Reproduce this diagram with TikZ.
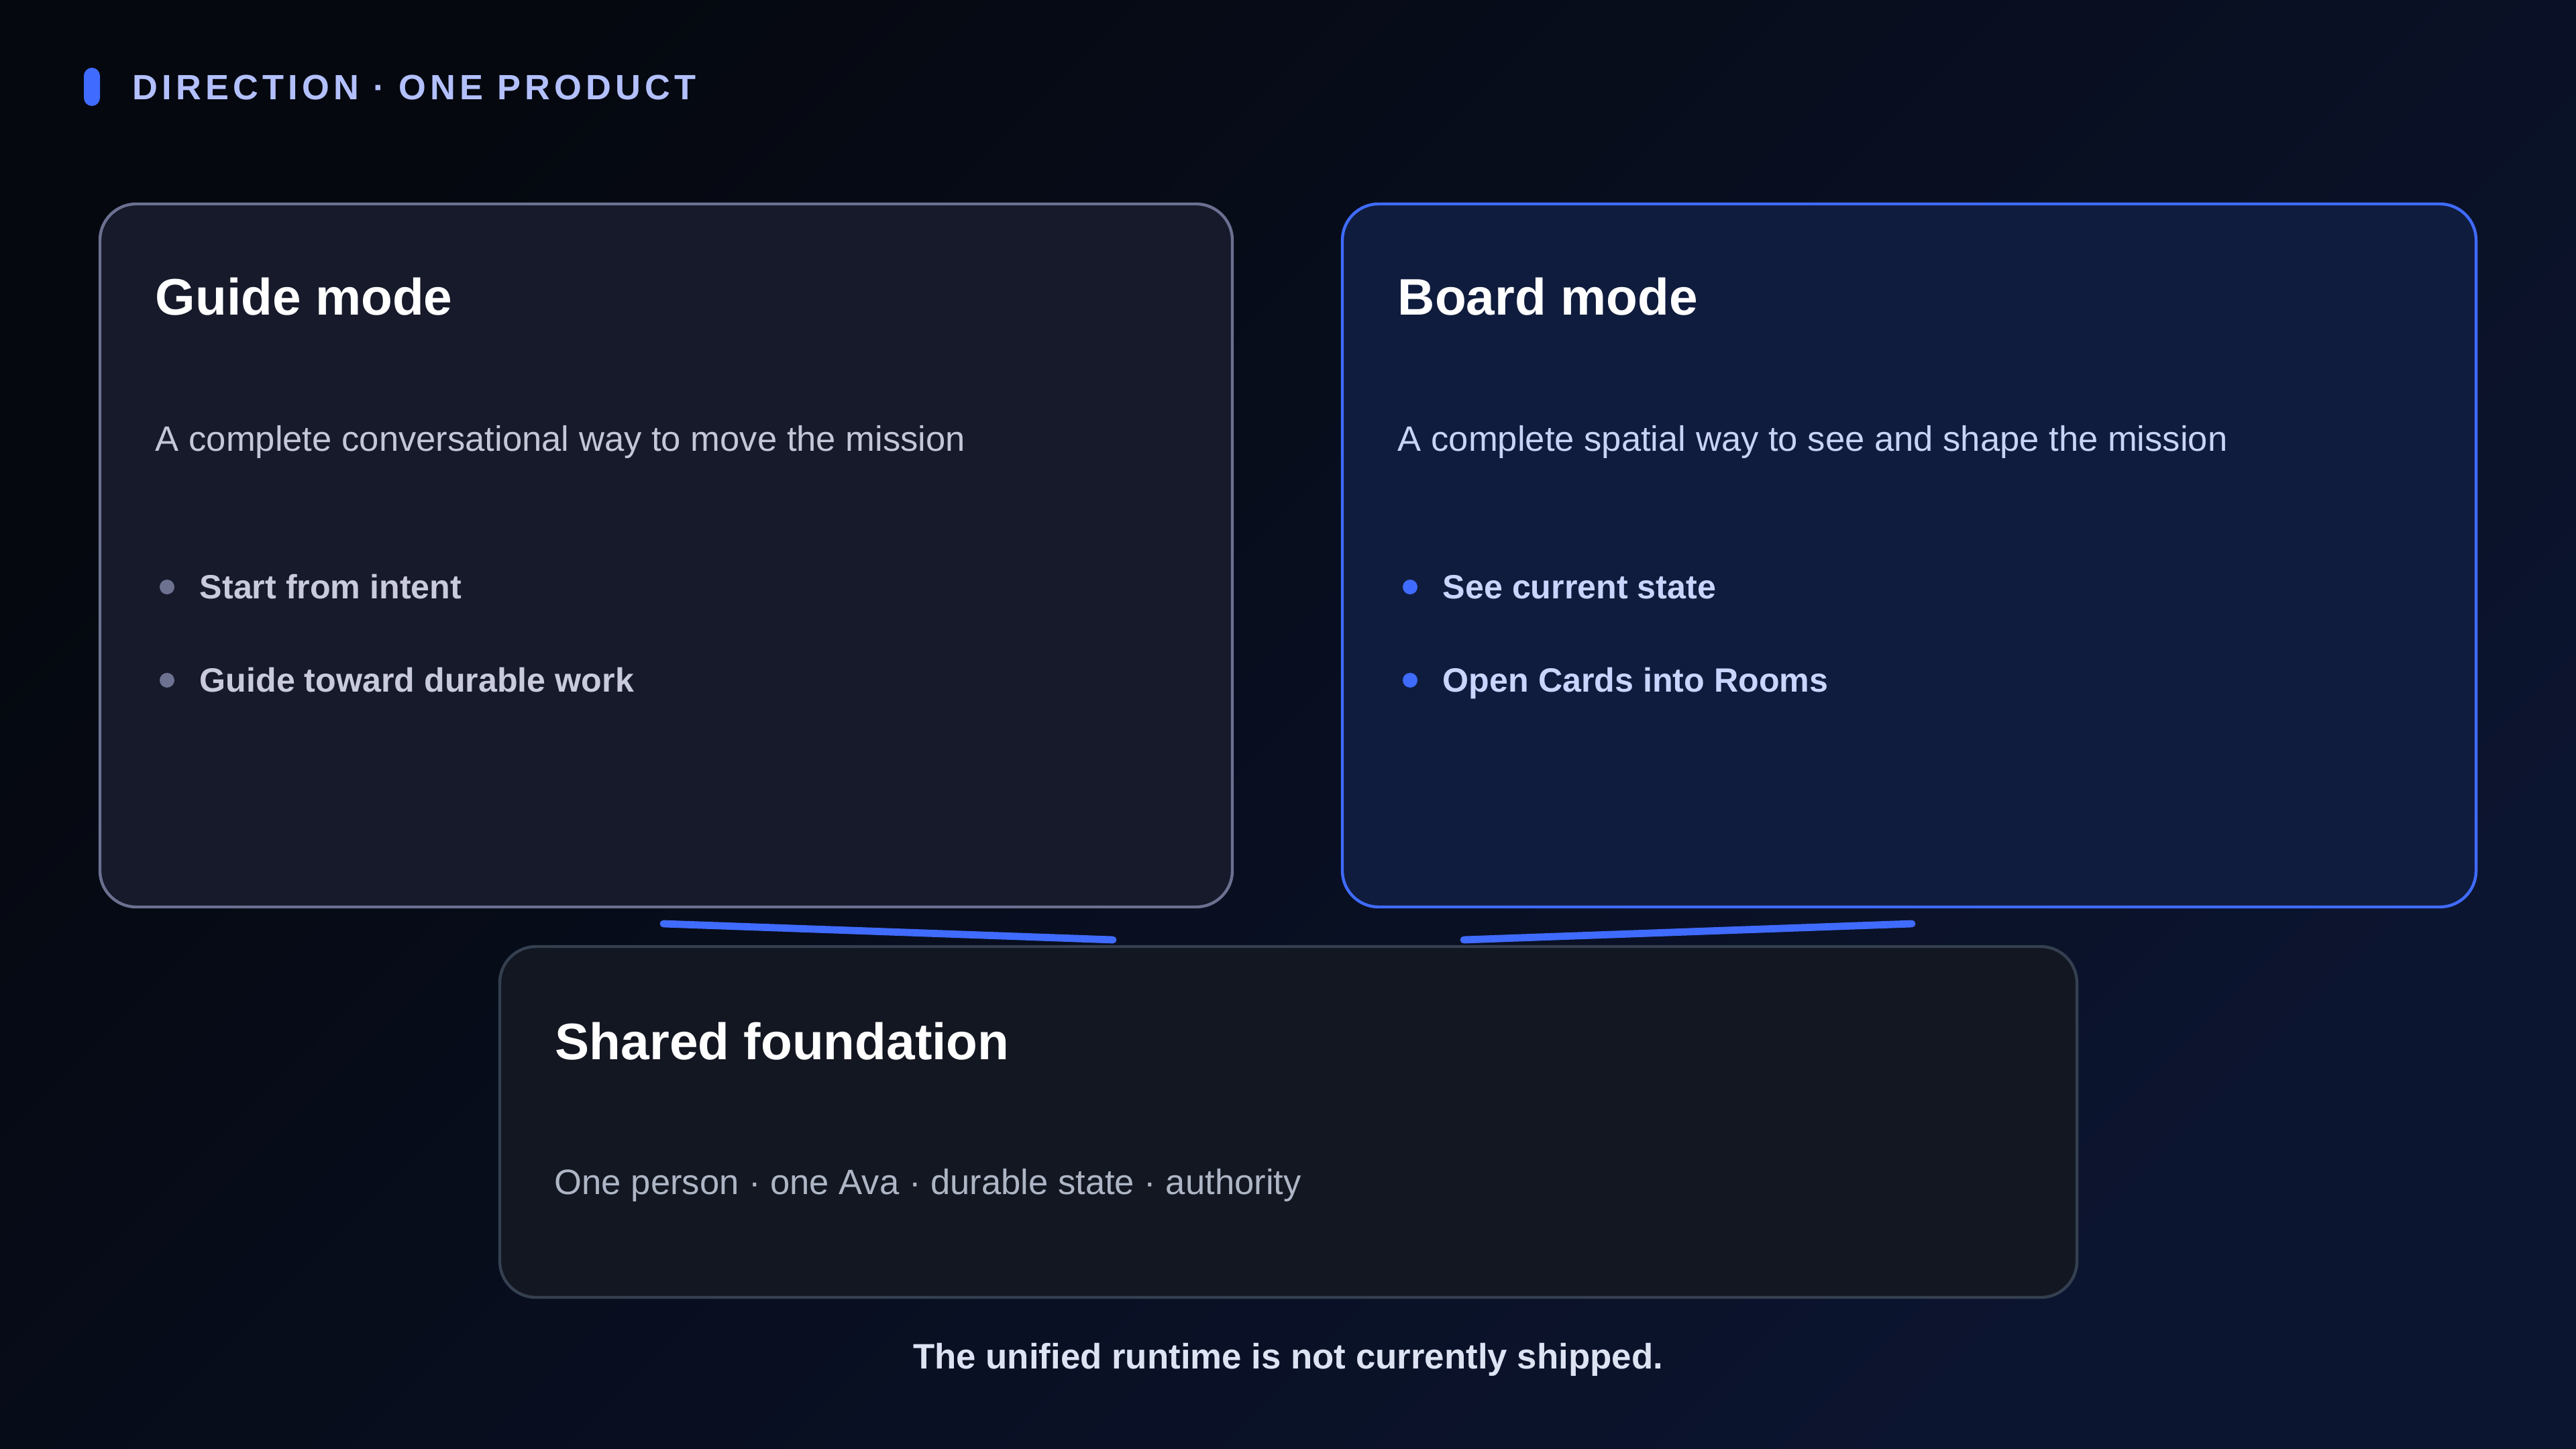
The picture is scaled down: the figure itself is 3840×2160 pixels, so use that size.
\documentclass[tikz,border=0pt]{standalone}
\usepackage{fontspec}
\setmainfont{Liberation Sans}
\newfontfamily\trackfont{Liberation Sans}[LetterSpace=11.8]
\usetikzlibrary{calc}
\definecolor{bgA}{HTML}{05080F}
\definecolor{bgB}{HTML}{0C1530}
\definecolor{accent}{HTML}{3F6BFF}
\definecolor{headtxt}{HTML}{B3C0FF}
\definecolor{guidefill}{HTML}{161A2B}
\definecolor{guideline}{HTML}{6C7090}
\definecolor{boardfill}{HTML}{0F1C3D}
\definecolor{sharedfill}{HTML}{131722}
\definecolor{sharedline}{HTML}{344050}
\definecolor{guidesub}{HTML}{C3C7D6}
\definecolor{boardsub}{HTML}{C8D3F5}
\definecolor{sharedsub}{HTML}{AEB6C6}
\definecolor{guidebul}{HTML}{C9CBDC}
\definecolor{guidedot}{HTML}{6E7291}
\definecolor{boardbul}{HTML}{C9D5FF}
\definecolor{foottxt}{HTML}{DDE3F2}
\begin{document}
\begin{tikzpicture}[x=0.25pt,y=-0.25pt,
  card/.style={rounded corners=13.5pt, line width=1.1pt, inner sep=0, outer sep=0},
  title/.style={font=\fontsize{19.15}{23}\selectfont\bfseries, text=white, inner sep=0, anchor=base west},
  sub/.style={font=\fontsize{13.15}{16}\selectfont, inner sep=0, anchor=base west},
  bul/.style={font=\fontsize{12.55}{15}\selectfont\bfseries, inner sep=0, anchor=base west},
  bdot/.style={circle, inner sep=0, minimum size=5.5pt},
  link/.style={draw=accent, line width=2.7pt, line cap=round}]
\useasboundingbox (0,0) rectangle (3840,2160);
\shade[top color=bgA, bottom color=bgB, shading angle=45] (0,0) rectangle (3840,2160);

% header
\fill[accent, rounded corners=3pt] (125,101) rectangle (149,158);
\node[inner sep=0, anchor=base west, text=headtxt, font=\trackfont\fontsize{13.1}{16}\selectfont\bfseries] (hd) at (197,149) {DIRECTION · ONE PRODUCT};

% cards
\node[card, draw=guideline, fill=guidefill, minimum width=422pt, minimum height=262pt] (guide) at (993,828) {};
\node[card, draw=accent, fill=boardfill, minimum width=422.5pt, minimum height=262pt] (board) at (2846,828) {};
\node[card, draw=sharedline, fill=sharedfill, minimum width=587.75pt, minimum height=130.75pt] (shared) at (1920.5,1672.5) {};

% connectors
\coordinate (gA) at ($(guide.south)+(-4,25)$);
\coordinate (sA) at ($(shared.north)+(-261.5,-10)$);
\coordinate (sB) at ($(shared.north)+(261.5,-10)$);
\coordinate (bA) at ($(board.south)+(4,25)$);
\draw[link] (gA) -- (sA);
\draw[link] (sB) -- (bA);

% guide texts
\node[title] (gt) at (231,470) {Guide mode};
\node[sub, text=guidesub] (gs) at (231,672) {A complete conversational way to move the mission};
\node[bdot, fill=guidedot] (gd1) at (249,875) {};
\node[bul, text=guidebul] (gb1) at (297,892) {Start from intent};
\node[bdot, fill=guidedot] (gd2) at (249,1014) {};
\node[bul, text=guidebul] (gb2) at (297,1031) {Guide toward durable work};

% board texts
\node[title] (bt) at (2083,470) {Board mode};
\node[sub, text=boardsub] (bs) at (2083,672) {A complete spatial way to see and shape the mission};
\node[bdot, fill=accent] (bd1) at (2102,875) {};
\node[bul, text=boardbul] (bb1) at (2150,892) {See current state};
\node[bdot, fill=accent] (bd2) at (2102,1014) {};
\node[bul, text=boardbul] (bb2) at (2150,1031) {Open Cards into Rooms};

% shared texts
\node[title] (st) at (827,1579) {Shared foundation};
\node[sub, text=sharedsub] (ss) at (826,1780) {One person · one Ava · durable state · authority};

% footer
\node[inner sep=0, anchor=base, text=foottxt, font=\fontsize{13.2}{16}\selectfont\bfseries] (ft) at (1920,2040) {The unified runtime is not currently shipped.};
\end{tikzpicture}
\end{document}
